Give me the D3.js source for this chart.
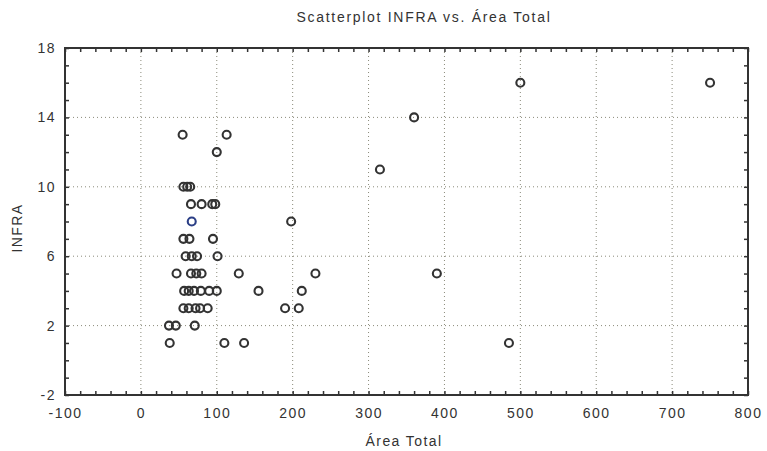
<!DOCTYPE html>
<html>
<head>
<meta charset="utf-8">
<script src="https://cdn.jsdelivr.net/npm/d3@7/dist/d3.min.js"></script>
<style>
body { margin: 0; background: #fff; }
svg text { font-family: "Liberation Sans", Arial, sans-serif; fill: #333; }
.grid line { stroke: #8a8a7a; stroke-width: 1; stroke-dasharray: 1,3; }
.frame { fill: none; stroke: #333; stroke-width: 2; }
.axis path { display: none; }
.axis line { stroke: #333; stroke-width: 1.5; }
.axis text { font-size: 14px; letter-spacing: 1.5px; }
</style>
</head>
<body>
<svg id="chart" width="767" height="451"></svg>
<script>
// INFRA vs Área Total
var areaTotal = [38, 110, 136, 485,
  37, 46, 71,
  56, 63, 72, 78, 88, 190, 208,
  57, 63, 70, 79, 90, 100, 155, 212,
  47, 66, 73, 80, 129, 230, 390,
  59, 67, 74, 101,
  56, 64, 95,
  67, 198,
  66, 80, 94, 98,
  56, 61, 65,
  315, 100, 55, 113, 360, 500, 750];
var infra = [1, 1, 1, 1,
  2, 2, 2,
  3, 3, 3, 3, 3, 3, 3,
  4, 4, 4, 4, 4, 4, 4, 4,
  5, 5, 5, 5, 5, 5, 5,
  6, 6, 6, 6,
  7, 7, 7,
  8, 8,
  9, 9, 9, 9,
  10, 10, 10,
  11, 12, 13, 13, 14, 16, 16];
// one point is drawn in blue in the original
var highlighted = [36];

var xTicks = [-100, 0, 100, 200, 300, 400, 500, 600, 700, 800];
var yTicks = [-2, 2, 6, 10, 14, 18];

var margin = {top: 48, right: 19, bottom: 56, left: 65},
  width = 767 - margin.left - margin.right,
  height = 451 - margin.top - margin.bottom;

var svg = d3.select("#chart");
var g = svg.append("g").attr("transform", "translate(" + margin.left + "," + margin.top + ")");

var x = d3.scaleLinear().domain([-100, 800]).range([0, width]);
var y = d3.scaleLinear().domain([-2, 18]).range([height, 0]);

// grid
g.append("g").attr("class", "grid")
  .selectAll("line").data(xTicks.slice(1, -1))
  .enter().append("line")
  .attr("x1", function(d) { return x(d); }).attr("x2", function(d) { return x(d); })
  .attr("y1", 0).attr("y2", height);
g.append("g").attr("class", "grid")
  .selectAll("line").data(yTicks.slice(1, -1))
  .enter().append("line")
  .attr("y1", function(d) { return y(d); }).attr("y2", function(d) { return y(d); })
  .attr("x1", 0).attr("x2", width);

// minor ticks, inward, on all four sides
var xMinor = d3.range(-100, 801, 20), yMinor = d3.range(-2, 19, 1);
g.append("g").attr("class", "axis").attr("transform", "translate(0," + height + ")")
  .call(d3.axisBottom(x).tickValues(xMinor).tickSize(-4).tickFormat(""));
g.append("g").attr("class", "axis")
  .call(d3.axisTop(x).tickValues(xMinor).tickSize(-4).tickFormat(""));
g.append("g").attr("class", "axis")
  .call(d3.axisLeft(y).tickValues(yMinor).tickSize(-4).tickFormat(""));
g.append("g").attr("class", "axis").attr("transform", "translate(" + width + ",0)")
  .call(d3.axisRight(y).tickValues(yMinor).tickSize(-4).tickFormat(""));

// labels (plain hyphen for negatives, as in the original)
g.append("g").attr("class", "axis").attr("transform", "translate(0," + height + ")")
  .call(d3.axisBottom(x).tickValues(xTicks).tickSize(0).tickPadding(13).tickFormat(function(d) { return String(d); }));
g.append("g").attr("class", "axis")
  .call(d3.axisLeft(y).tickValues(yTicks).tickSize(0).tickPadding(9).tickFormat(function(d) { return String(d); }));

g.append("rect").attr("class", "frame").attr("width", width).attr("height", height);

// points
g.selectAll("circle.pt").data(areaTotal)
  .enter().append("circle")
  .attr("class", "pt")
  .attr("cx", function(d) { return x(d); })
  .attr("cy", function(d, i) { return y(infra[i]); })
  .attr("r", 4)
  .attr("fill", "none")
  .attr("stroke", function(d, i) { return highlighted.indexOf(i) >= 0 ? "#2b3f86" : "#333"; })
  .attr("stroke-width", 2.1);

svg.append("text").attr("x", 424).attr("y", 22).attr("text-anchor", "middle")
  .style("font-size", "14px").style("letter-spacing", "1.7px")
  .text("Scatterplot INFRA vs. Área Total");
svg.append("text").attr("x", 404).attr("y", 446).attr("text-anchor", "middle")
  .style("font-size", "14px").style("letter-spacing", "1.4px")
  .text("Área Total");
svg.append("text").attr("transform", "translate(22,228) rotate(-90)").attr("text-anchor", "middle")
  .style("font-size", "14px").style("letter-spacing", "1.4px")
  .text("INFRA");
</script>
</body>
</html>
